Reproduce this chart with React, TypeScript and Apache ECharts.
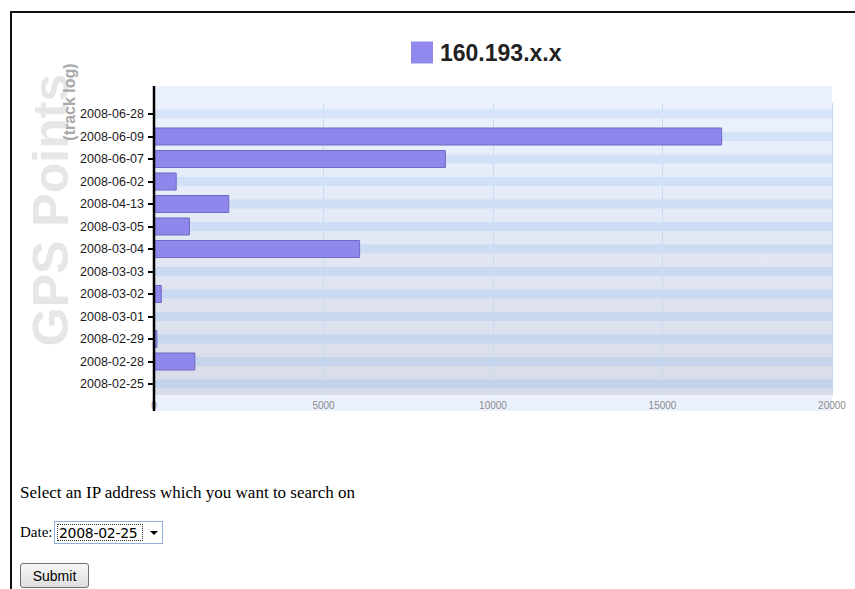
import React, { useEffect, useRef } from "react";
import * as echarts from "echarts";

const seriesName = "160.193.x.x";
const categories = [
  "2008-06-28",
  "2008-06-09",
  "2008-06-07",
  "2008-06-02",
  "2008-04-13",
  "2008-03-05",
  "2008-03-04",
  "2008-03-03",
  "2008-03-02",
  "2008-03-01",
  "2008-02-29",
  "2008-02-28",
  "2008-02-25",
];
const gpsPoints = [0, 16760, 8610, 670, 2220, 1060, 6080, 0, 230, 0, 100, 1220, 0];
const xMin = 0;
const xMax = 20000;
const xInterval = 5000;
const yTitle = "GPS Points";
const ySubTitle = "(track log)";
const dateOptions = [...categories].reverse();

const FONT = "'Liberation Sans', Arial, sans-serif";

function mix(a: number[], b: number[], t: number) {
  const c = a.map((v, i) => Math.round(v + (b[i] - v) * t));
  return `rgb(${c[0]},${c[1]},${c[2]})`;
}

function Chart() {
  const ref = useRef<HTMLDivElement>(null);
  useEffect(() => {
    if (!ref.current) return;
    const chart = echarts.init(ref.current, undefined, { renderer: "svg" });
    const n = categories.length;
    chart.setOption({
      animation: false,
      legend: {
        left: 411,
        top: 41,
        padding: 0,
        itemWidth: 22,
        itemHeight: 22,
        selectedMode: false,
        textStyle: {
          fontFamily: FONT,
          fontSize: 23,
          fontWeight: "bold",
          color: "#222",
          padding: [0, 0, 0, 2],
        },
        data: [{ name: seriesName, icon: "rect", itemStyle: { color: "#9088ec", borderWidth: 0 } }],
      },
      grid: {
        left: 154,
        right: 23,
        top: 102.75,
        height: 292.5,
        show: true,
        borderWidth: 0,
        backgroundColor: new echarts.graphic.LinearGradient(0, 0, 0, 1, [
          { offset: 0, color: "#ebf2fe" },
          { offset: 1, color: "#d8dce8" },
        ]),
      },
      xAxis: {
        type: "value",
        min: xMin,
        max: xMax,
        interval: xInterval,
        axisLine: { show: false },
        axisTick: { show: false },
        axisLabel: {
          fontFamily: FONT,
          fontSize: 10,
          color: "#8a8a8a",
          margin: 5,
          formatter: (v: number) => String(v),
        },
        splitLine: { show: true, lineStyle: { color: "#cbdaf3", width: 1 } },
      },
      yAxis: [
        {
          type: "category",
          data: categories,
          inverse: true,
          axisLine: { show: false },
          axisTick: { show: true, alignWithLabel: true, length: 6, lineStyle: { color: "#000", width: 2 } },
          axisLabel: { fontFamily: FONT, fontSize: 12.5, color: "#1a1a1a", margin: 10 },
          splitLine: { show: false },
        },
        {
          type: "category",
          data: categories,
          inverse: true,
          show: false,
        },
      ],
      series: [
        {
          name: "stripes",
          type: "bar",
          yAxisIndex: 0,
          silent: true,
          barWidth: 9,
          data: categories.map(() => xMax),
          itemStyle: {
            color: (p: any) => mix([213, 228, 251], [194, 211, 236], p.dataIndex / (n - 1)),
          },
          z: 1,
        },
        {
          name: seriesName,
          type: "bar",
          yAxisIndex: 1,
          barWidth: 18,
          data: gpsPoints,
          itemStyle: { color: "#8f87eb", borderColor: "#7169c2", borderWidth: 1 },
          z: 3,
        },
      ],
      graphic: [
        { type: "rect", shape: { x: 154, y: 86, width: 678, height: 16.75 }, style: { fill: "#eaf1fd" }, silent: true },
        { type: "rect", shape: { x: 154, y: 395.25, width: 678, height: 15.75 }, style: { fill: "#eaf1fd" }, silent: true },
        { type: "line", z: 100, shape: { x1: 154, y1: 86, x2: 154, y2: 411 }, style: { stroke: "#000", lineWidth: 2.5 }, silent: true },
        {
          type: "text",
          x: 51,
          y: 210,
          rotation: Math.PI / 2,
          style: {
            text: yTitle,
            font: `bold 50px ${FONT}`,
            fill: "#e6e6e6",
            textAlign: "center",
            textVerticalAlign: "middle",
          },
          silent: true,
        },
        {
          type: "text",
          x: 69,
          y: 102,
          rotation: Math.PI / 2,
          style: {
            text: ySubTitle,
            font: `bold 16px ${FONT}`,
            fill: "#a9a9a9",
            textAlign: "center",
            textVerticalAlign: "middle",
          },
          silent: true,
        },
      ],
    });
    return () => chart.dispose();
  }, []);
  return <div ref={ref} style={{ position: "absolute", left: 0, top: 0, width: 855, height: 440 }} />;
}

export default function App() {
  return (
    <div style={{ position: "absolute", left: 0, top: 0, width: 855, height: 589, overflow: "hidden", background: "#fff" }}>
      <div
        style={{
          position: "absolute",
          left: 10,
          top: 11,
          right: 0,
          bottom: 0,
          borderTop: "2px solid #111",
          borderLeft: "2px solid #111",
        }}
      />
      <Chart />
      <div
        style={{
          position: "absolute",
          left: 20,
          top: 483,
          fontFamily: "'Liberation Serif', 'Times New Roman', serif",
          fontSize: 17,
          color: "#000",
          whiteSpace: "nowrap",
        }}
      >
        Select an IP address which you want to search on
      </div>
      <div
        style={{
          position: "absolute",
          left: 20,
          top: 524,
          fontFamily: "'Liberation Serif', 'Times New Roman', serif",
          fontSize: 15,
          color: "#000",
        }}
      >
        Date:
      </div>
      <div style={{ position: "absolute", left: 54, top: 521, width: 109, height: 23 }}>
        <select
          defaultValue={dateOptions[0]}
          style={{
            appearance: "none",
            WebkitAppearance: "none",
            boxSizing: "border-box",
            width: 109,
            height: 23,
            margin: 0,
            padding: "0 0 0 4px",
            border: "1px solid #8fb0d8",
            borderRadius: 0,
            background: "#fff",
            fontFamily: "'DejaVu Sans', sans-serif",
            fontSize: 14,
            letterSpacing: -0.3,
            color: "#000",
            outline: "none",
          }}
        >
          {dateOptions.map((d) => (
            <option key={d} value={d}>
              {d}
            </option>
          ))}
        </select>
        <div
          style={{
            position: "absolute",
            left: 3,
            top: 3,
            width: 86,
            height: 17,
            boxSizing: "border-box",
            border: "1px dotted #333",
            pointerEvents: "none",
          }}
        />
        <div
          style={{
            position: "absolute",
            left: 96,
            top: 10,
            width: 0,
            height: 0,
            borderLeft: "4px solid transparent",
            borderRight: "4px solid transparent",
            borderTop: "4px solid #000",
            pointerEvents: "none",
          }}
        />
      </div>
      <button
        type="button"
        style={{
          position: "absolute",
          left: 20,
          top: 563,
          width: 69,
          height: 25,
          margin: 0,
          padding: 0,
          boxSizing: "border-box",
          border: "1px solid #707070",
          borderRadius: 3,
          background: "linear-gradient(#f6f6f6, #dedede)",
          fontFamily: FONT,
          fontSize: 14,
          color: "#000",
        }}
      >
        Submit
      </button>
    </div>
  );
}
